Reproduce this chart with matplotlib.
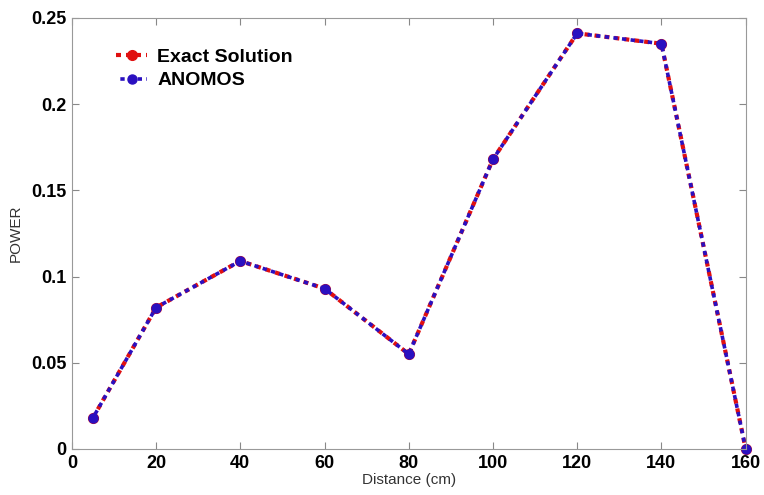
import numpy as np
import matplotlib
matplotlib.use('Agg')
from matplotlib import pyplot as plt

distance = [5, 20, 40, 60, 80, 100, 120, 140, 160]
exact = [0.018, 0.082, 0.109, 0.093, 0.055, 0.168, 0.241, 0.235, 0.0]
anomos = [0.018, 0.082, 0.109, 0.093, 0.055, 0.168, 0.241, 0.235, 0.0]

plt.rcParams['font.family'] = ['Liberation Sans', 'DejaVu Sans']

fig = plt.figure(figsize=(7.64, 4.95), dpi=100)
ax = fig.add_axes([0.094, 0.093, 0.882, 0.871])

ax.plot(distance, exact, color='#e01010', linestyle=(0, (1.2, 1.2)), linewidth=3, marker='o',
        markersize=7, label='Exact Solution', clip_on=False)
ax.plot(distance, anomos, color='#2a10c0', linestyle=(1.2, (1.2, 1.2)), linewidth=2.6, marker='o',
        markersize=6.5, label='ANOMOS', clip_on=False)

ax.set_xlim(0, 160)
ax.set_ylim(0, 0.25)
ax.set_xticks([0, 20, 40, 60, 80, 100, 120, 140, 160])
ax.set_yticks([0, 0.05, 0.1, 0.15, 0.2, 0.25])
ax.set_yticklabels(['0', '0.05', '0.1', '0.15', '0.2', '0.25'])
ax.tick_params(direction='in', top=True, right=True, length=5, color='#888888',
               labelsize=13, pad=4)
for lbl in ax.get_xticklabels() + ax.get_yticklabels():
    lbl.set_fontweight('bold')
for s in ax.spines.values():
    s.set_color('#999999')

ax.set_xlabel('Distance (cm)', fontsize=11, color='#333333', labelpad=1)
ax.set_ylabel('POWER', fontsize=11, color='#333333', labelpad=6)

leg = ax.legend(loc='upper left', bbox_to_anchor=(0.04, 0.97), frameon=False,
                prop={'weight': 'bold', 'size': 14}, handlelength=1.6,
                handletextpad=0.5, labelspacing=0.3)

fig.savefig('out.png', dpi=100)
